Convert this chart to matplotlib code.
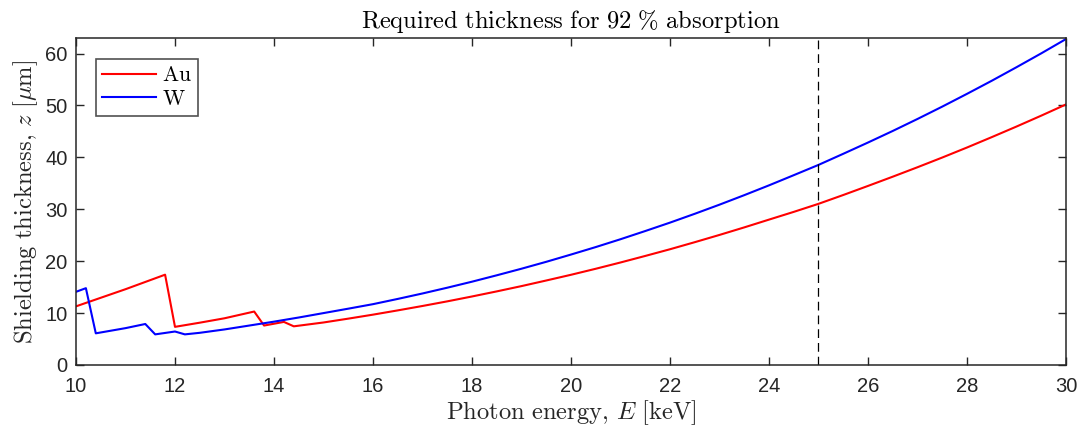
import matplotlib
matplotlib.use("Agg")
import matplotlib.pyplot as plt

plt.rcParams['font.family'] = ['Liberation Sans', 'DejaVu Sans']
plt.rcParams['mathtext.fontset'] = 'cm'

# Photon energy [keV] and required thickness [um]
energy_au = [10.0, 11.0, 11.8, 12.0, 12.5, 13.0, 13.6, 13.8, 14.0, 14.2, 14.4,
             15.0, 15.5, 16.0, 16.5, 17.0, 17.5, 18.0, 18.5, 19.0, 19.5, 20.0,
             20.5, 21.0, 21.5, 22.0, 22.5, 23.0, 23.5, 24.0, 24.5, 25.0,
             25.5, 26.0, 26.5, 27.0, 27.5, 28.0, 28.5, 29.0, 29.5, 30.0]
thick_au = [11.3, 14.6, 17.4, 7.35, 8.15, 9.0, 10.3, 7.6, 7.95, 8.3, 7.45,
            8.19, 8.93, 9.70, 10.52, 11.37, 12.26, 13.2, 14.18, 15.2, 16.28, 17.38,
            18.54, 19.75, 21.01, 22.3, 23.66, 25.06, 26.51, 28.01, 29.5, 31.05,
            32.75, 34.5, 36.28, 38.1, 39.97, 41.9, 43.9, 45.94, 48.04, 50.2]

energy_w = [10.0, 10.2, 10.4, 11.0, 11.4, 11.6, 12.0, 12.2, 12.5, 13.0, 13.5, 14.0,
            14.5, 15.0, 15.5, 16.0, 16.5, 17.0, 17.5, 18.0, 18.5, 19.0, 19.5, 20.0,
            20.5, 21.0, 21.5, 22.0, 22.5, 23.0, 23.5, 24.0, 24.5, 25.0,
            25.5, 26.0, 26.5, 27.0, 27.5, 28.0, 28.5, 29.0, 29.5, 30.0]
thick_w = [14.1, 14.8, 6.1, 7.1, 7.9, 5.9, 6.45, 5.9, 6.2, 6.85, 7.6, 8.35,
           9.15, 10.0, 10.85, 11.72, 12.73, 13.78, 14.89, 16.05, 17.28, 18.55, 19.88, 21.28,
           22.72, 24.23, 25.81, 27.43, 29.13, 30.89, 32.72, 34.61, 36.57, 38.55,
           40.69, 42.86, 45.09, 47.4, 49.78, 52.24, 54.76, 57.37, 60.04, 62.8]

design_energy = 25

fig = plt.figure(figsize=(10.81, 4.29), dpi=100)
ax = fig.add_axes([0.0703, 0.1492, 0.9158, 0.7622])

ax.plot(energy_au, thick_au, color='#ff0000', lw=1.5, label=r'$\mathrm{Au}$')
ax.plot(energy_w, thick_w, color='#0000ff', lw=1.5, label=r'$\mathrm{W}$')
ax.axvline(design_energy, color='black', lw=0.9, ls=(0, (7, 4)))

ax.set_xlim(10, 30)
ax.set_ylim(0, 63)
ax.set_xticks(range(10, 31, 2))
ax.set_yticks(range(0, 61, 10))

axcol = '#262626'
ax.tick_params(direction='in', top=True, right=True, length=6, width=1.0,
               colors=axcol, labelsize=14.5, pad=9)
ax.tick_params(axis='y', pad=6)
for s in ax.spines.values():
    s.set_color(axcol)
    s.set_linewidth(1.1)

ax.set_title(r'$\mathrm{Required\ thickness\ for\ 92\ \%\ absorption}$',
             fontsize=17.7, color='black', pad=7)
ax.set_xlabel(r'$\mathrm{Photon\ energy,}\,E\ [\mathrm{keV}]$', fontsize=17.7,
              color=axcol, labelpad=1)
ax.set_ylabel(r'$\mathrm{Shielding\ thickness,}\,z\ [\mu\mathrm{m}]$', fontsize=17.7,
              color=axcol, labelpad=4)

leg = ax.legend(loc='upper left', bbox_to_anchor=(0.0202, 0.936), fontsize=15.5,
                frameon=True, fancybox=False, handlelength=2.5, borderpad=0.3,
                labelspacing=0.12, handletextpad=0.25, borderaxespad=0)
leg.get_frame().set_edgecolor(axcol)
leg.get_frame().set_linewidth(1.2)

fig.savefig('out.png', dpi=100)
